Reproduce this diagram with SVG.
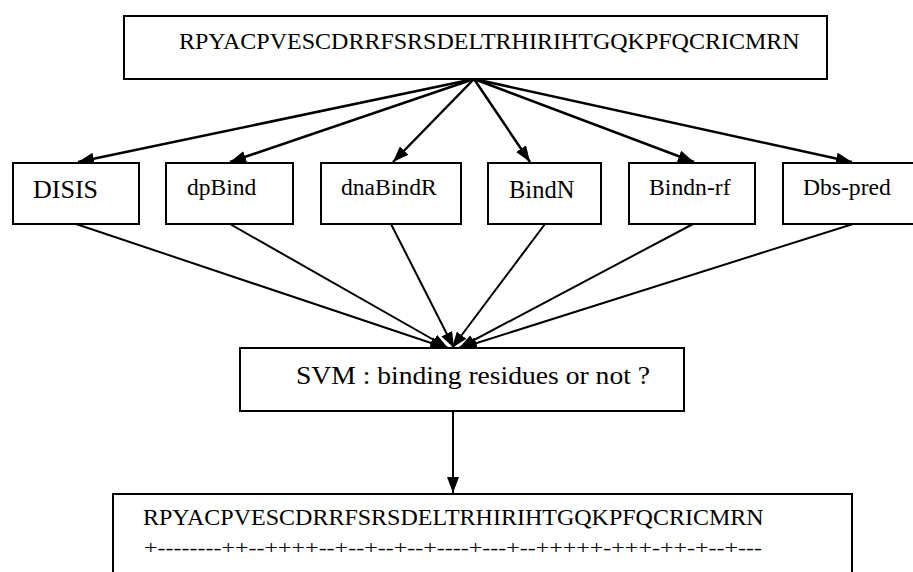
<svg xmlns="http://www.w3.org/2000/svg" width="913" height="572" viewBox="0 0 913 572">
<style>
.box{fill:#fff;stroke:#000;stroke-width:2}
.t{font-family:'Liberation Serif','Times New Roman','DejaVu Serif',serif;fill:#000}
.c1{stroke:#000;stroke-width:2.5;fill:none}
.c2{stroke:#000;stroke-width:2;fill:none}
</style>
<defs>
<marker id="ah" viewBox="0 0 16 12" refX="16" refY="6" markerWidth="16" markerHeight="12" markerUnits="userSpaceOnUse" orient="auto">
<path d="M0,0 L16,6 L0,12 Z" fill="#000"/>
</marker>
</defs>
<rect width="913" height="572" fill="#fff"/>
<g id="connectors">
<line class="c1" x1="474" y1="79" x2="78" y2="162" marker-end="url(#ah)"/>
<line class="c1" x1="474" y1="79" x2="230" y2="162" marker-end="url(#ah)"/>
<line class="c1" x1="474" y1="79" x2="393" y2="162" marker-end="url(#ah)"/>
<line class="c1" x1="474" y1="79" x2="530" y2="162" marker-end="url(#ah)"/>
<line class="c1" x1="474" y1="79" x2="694" y2="162" marker-end="url(#ah)"/>
<line class="c1" x1="474" y1="79" x2="852" y2="162" marker-end="url(#ah)"/>
<line class="c2" x1="76" y1="224" x2="446" y2="348" marker-end="url(#ah)"/>
<line class="c2" x1="230" y1="224" x2="448" y2="348" marker-end="url(#ah)"/>
<line class="c2" x1="391" y1="224" x2="454" y2="348" marker-end="url(#ah)"/>
<line class="c2" x1="545" y1="224" x2="452" y2="348" marker-end="url(#ah)"/>
<line class="c2" x1="693" y1="224" x2="459" y2="348" marker-end="url(#ah)"/>
<line class="c2" x1="853" y1="224" x2="461" y2="348" marker-end="url(#ah)"/>
<line class="c2" x1="453" y1="411" x2="453" y2="493" marker-end="url(#ah)"/>
</g>
<g id="input">
<rect class="box" x="124" y="16" width="703" height="63"/>
<text class="t" x="179" y="49" font-size="24">RPYACPVESCDRRFSRSDELTRHIRIHTGQKPFQCRICMRN</text>
</g>
<g id="disis">
<rect class="box" x="13" y="163" width="126" height="61"/>
<text class="t" x="33" y="198" font-size="26">DISIS</text>
</g>
<g id="dpbind">
<rect class="box" x="166" y="163" width="127" height="61"/>
<text class="t" x="187" y="195" font-size="23.5">dpBind</text>
</g>
<g id="dnabindr">
<rect class="box" x="321" y="163" width="140" height="61"/>
<text class="t" x="341" y="195" font-size="23.6">dnaBindR</text>
</g>
<g id="bindn">
<rect class="box" x="488" y="163" width="113" height="61"/>
<text class="t" x="509" y="198" font-size="24.5">BindN</text>
</g>
<g id="bindnrf">
<rect class="box" x="629" y="163" width="126" height="61"/>
<text class="t" x="649" y="195" font-size="23.7">Bindn-rf</text>
</g>
<g id="dbspred">
<rect class="box" x="783" y="163" width="140" height="61"/>
<text class="t" x="803" y="195" font-size="23.6">Dbs-pred</text>
</g>
<g id="svm">
<rect class="box" x="240" y="348" width="444" height="63"/>
<text class="t" x="296" y="384" font-size="25" textLength="354" lengthAdjust="spacingAndGlyphs">SVM : binding residues or not ?</text>
</g>
<g id="output">
<rect class="box" x="113" y="494" width="739" height="100"/>
<text class="t" x="143" y="525" font-size="24">RPYACPVESCDRRFSRSDELTRHIRIHTGQKPFQCRICMRN</text>
<text class="t" x="144" y="554" font-size="18" textLength="618" lengthAdjust="spacingAndGlyphs">+--------++--++++--+--+--+--+----+---+--+++++-+++-++-+--+---</text>
</g>
</svg>
